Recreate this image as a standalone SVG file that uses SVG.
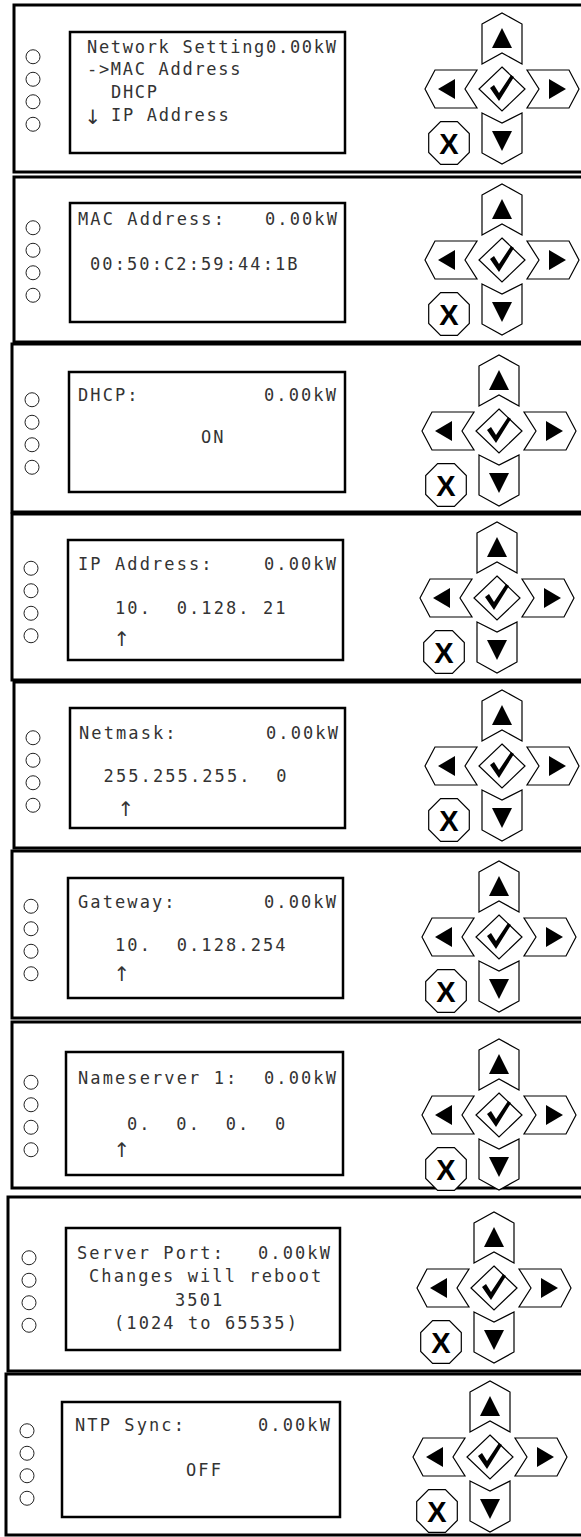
<svg xmlns="http://www.w3.org/2000/svg" xmlns:xlink="http://www.w3.org/1999/xlink" width="581" height="1537" viewBox="0 0 581 1537">
<style>
.frame{fill:#fff;stroke:#000;stroke-width:3}
.lcd{fill:#fff;stroke:#000;stroke-width:2.5}
.led{fill:#fff;stroke:#222;stroke-width:1}
.key{fill:#fff;stroke:#000;stroke-width:1.2;stroke-linejoin:miter}
.tri{fill:#000}
.t{font-family:"DejaVu Sans Mono","Liberation Mono",monospace;font-size:17px;letter-spacing:2.1px;fill:#333;white-space:pre}
.t1{letter-spacing:1.7px}
.ar{font-family:"DejaVu Sans","Liberation Sans",sans-serif;font-size:20px;fill:#333;text-anchor:middle}
.x{font-family:"Liberation Sans",Arial,sans-serif;font-weight:bold;font-size:29px;fill:#000;text-anchor:middle}
</style>
<defs>
<g id="keys">
<polygon class="key" points="-20,-65 0,-76 20,-65 20,-25 0,-36 -20,-25"/>
<polygon class="tri" points="0,-61 10,-41 -10,-41"/>
<polygon class="key" points="0,-22 23,0 0,22 -23,0"/>
<path class="tri" d="M-12,-1 L-8,-4 L-3,4 L9,-14 L12,-12 L-3,12 Z"/>
<polygon class="key" points="-77,0 -67,-19 -25,-19 -37,0 -25,19 -67,19"/>
<polygon class="tri" points="-64,0 -47,-10 -47,10"/>
<polygon class="key" points="77,0 67,-19 25,-19 37,0 25,19 67,19"/>
<polygon class="tri" points="64,0 47,-10 47,10"/>
<polygon class="key" points="-20,24 0,34 20,24 20,64 0,75 -20,64"/>
<polygon class="tri" points="-10,42 10,42 0,62"/>
<polygon class="key" points="-61.4,32.7 -44.6,32.7 -32.7,44.6 -32.7,63.4 -44.6,75.3 -61.4,75.3 -73.3,63.4 -73.3,44.6"/>
<text class="x" x="-53" y="64.5">X</text>
</g>
<g id="leds">
<circle class="led" cx="0" cy="-33.75" r="7"/>
<circle class="led" cx="0" cy="-11.25" r="7"/>
<circle class="led" cx="0" cy="11.25" r="7"/>
<circle class="led" cx="0" cy="33.75" r="7"/>
</g>
</defs>
<rect width="581" height="1537" fill="#fff"/>

<g id="panel-1">
<rect class="frame" x="14" y="5" width="600" height="167"/>
<rect class="lcd" x="70" y="32" width="275" height="121"/>
<use xlink:href="#leds" x="33" y="90.5"/>
<use xlink:href="#keys" x="502" y="89"/>
<text class="t t1" x="87" y="52.5">Network Setting0.00kW</text>
<text class="t t1" x="87" y="74.5">->MAC Address</text>
<text class="t t1" x="111" y="97.5">DHCP</text>
<text class="ar" x="93" y="124">↓</text>
<text class="t t1" x="111" y="120.5">IP Address</text>
</g>

<g id="panel-2">
<rect class="frame" x="14" y="177" width="600" height="165"/>
<rect class="lcd" x="70" y="203" width="275" height="119"/>
<use xlink:href="#leds" x="33" y="261.5"/>
<use xlink:href="#keys" x="502" y="260"/>
<text class="t" x="78" y="224.5">MAC Address:</text>
<text class="t" x="265" y="224.5">0.00kW</text>
<text class="t" x="90" y="269.5">00:50:C2:59:44:1B</text>
</g>

<g id="panel-3">
<rect class="frame" x="12" y="344" width="600" height="168"/>
<rect class="lcd" x="69" y="372" width="276" height="120"/>
<use xlink:href="#leds" x="32" y="433.5"/>
<use xlink:href="#keys" x="499" y="431"/>
<text class="t" x="78" y="401">DHCP:</text>
<text class="t" x="264" y="401">0.00kW</text>
<text class="t" x="201" y="443">ON</text>
</g>

<g id="panel-4">
<rect class="frame" x="12" y="514" width="600" height="166"/>
<rect class="lcd" x="68" y="540" width="275" height="120"/>
<use xlink:href="#leds" x="31" y="602"/>
<use xlink:href="#keys" x="497" y="598"/>
<text class="t" x="78" y="570">IP Address:</text>
<text class="t" x="264" y="570">0.00kW</text>
<text class="t" x="115" y="614">10.  0.128. 21</text>
<text class="ar" x="122" y="646">↑</text>
</g>

<g id="panel-5">
<rect class="frame" x="14" y="682" width="600" height="166"/>
<rect class="lcd" x="70" y="708" width="275" height="120"/>
<use xlink:href="#leds" x="33" y="771.5"/>
<use xlink:href="#keys" x="502" y="766"/>
<text class="t" x="79" y="739">Netmask:</text>
<text class="t" x="266" y="739">0.00kW</text>
<text class="t" x="103.6" y="782">255.255.255.  0</text>
<text class="ar" x="126" y="816">↑</text>
</g>

<g id="panel-6">
<rect class="frame" x="12" y="851" width="600" height="167"/>
<rect class="lcd" x="68" y="878" width="275" height="120"/>
<use xlink:href="#leds" x="31" y="940"/>
<use xlink:href="#keys" x="499" y="937"/>
<text class="t" x="78" y="908">Gateway:</text>
<text class="t" x="264" y="908">0.00kW</text>
<text class="t" x="115" y="951">10.  0.128.254</text>
<text class="ar" x="122" y="981">↑</text>
</g>

<g id="panel-7">
<rect class="frame" x="12" y="1022" width="600" height="166"/>
<rect class="lcd" x="66" y="1052" width="277" height="123"/>
<use xlink:href="#leds" x="31" y="1116"/>
<use xlink:href="#keys" x="499" y="1115"/>
<text class="t" x="78" y="1084">Nameserver 1:</text>
<text class="t" x="264" y="1084">0.00kW</text>
<text class="t" x="127" y="1130">0.  0.  0.  0</text>
<text class="ar" x="122" y="1157">↑</text>
</g>

<g id="panel-8">
<rect class="frame" x="8" y="1197" width="600" height="174"/>
<rect class="lcd" x="66" y="1228" width="274" height="122"/>
<use xlink:href="#leds" x="29" y="1291.5"/>
<use xlink:href="#keys" x="494" y="1288"/>
<text class="t" x="77" y="1259">Server Port:</text>
<text class="t" x="258" y="1259">0.00kW</text>
<text class="t" x="89" y="1282">Changes will reboot</text>
<text class="t" x="175" y="1306">3501</text>
<text class="t" x="114" y="1329">(1024 to 65535)</text>
</g>

<g id="panel-9">
<rect class="frame" x="6" y="1374" width="600" height="161"/>
<rect class="lcd" x="62" y="1402" width="278" height="115"/>
<use xlink:href="#leds" x="27" y="1464.5"/>
<use xlink:href="#keys" x="490" y="1457"/>
<text class="t" x="75" y="1431">NTP Sync:</text>
<text class="t" x="258" y="1431">0.00kW</text>
<text class="t" x="186" y="1476">OFF</text>
</g>

<g id="connectors"/>
</svg>
